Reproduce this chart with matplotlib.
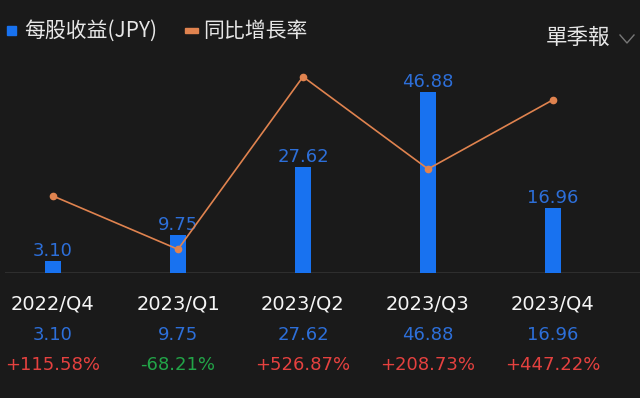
import matplotlib.pyplot as plt
from matplotlib.patches import Rectangle
from matplotlib.lines import Line2D
from matplotlib.transforms import blended_transform_factory

# data
quarters = ["2022/Q4", "2023/Q1", "2023/Q2", "2023/Q3", "2023/Q4"]
eps = [3.10, 9.75, 27.62, 46.88, 16.96]
yoy = [115.58, -68.21, 526.87, 208.73, 447.22]

bg = "#1a1a1a"
blue = "#1872f0"
blue_txt = "#2d6fd9"
orange = "#e0834f"
red = "#e5413f"
green = "#22a548"

W, H = 640, 398
fig = plt.figure(figsize=(6.4, 3.98), dpi=100)
fig.patch.set_facecolor(bg)

def fy(py):
    # pixel from top -> figure fraction
    return 1 - py / H

ax = fig.add_axes([5 / W, fy(273), 635 / W, 213 / H])
ax.set_facecolor(bg)
for s in ax.spines.values():
    s.set_visible(False)
ax.set_xticks([])
ax.set_yticks([])
x = list(range(len(quarters)))
ax.set_xlim(-0.384, 4.696)
ax.set_ylim(0, 55.27)
ax.axhline(0, color="#333333", lw=1.2)
ax.bar(x, eps, width=0.128, color=blue, zorder=2)
for xi, v in zip(x, eps):
    ax.annotate(f"{v:.2f}", (xi, v), xytext=(0, 3.6), textcoords="offset points",
                ha="center", va="baseline", fontsize=13, color=blue_txt,
                family="DejaVu Sans")

ax2 = ax.twinx()
for s in ax2.spines.values():
    s.set_visible(False)
ax2.set_yticks([])
ax2.set_ylim(-149.9, 584.5)
ax2.plot(x, yoy, color=orange, lw=1.2, marker="o", markersize=4.5, zorder=3)

# rows under the chart
tr = blended_transform_factory(ax.transData, fig.transFigure)
for xi, q, v, p in zip(x, quarters, eps, yoy):
    ax.text(xi, fy(309), q, transform=tr, ha="center", va="baseline",
            fontsize=14, color="#f5f5f5", family="DejaVu Sans")
    ax.text(xi, fy(340), f"{v:.2f}", transform=tr, ha="center", va="baseline",
            fontsize=13, color=blue_txt, family="DejaVu Sans")
    ax.text(xi, fy(370), f"{p:+.2f}%", transform=tr, ha="center", va="baseline",
            fontsize=13, color=red if p >= 0 else green, family="DejaVu Sans")

# legend
cjk = ["Noto Sans CJK TC", "DejaVu Sans"]
fig.add_artist(Rectangle((7 / W, fy(35)), 9 / W, 9 / H, transform=fig.transFigure,
                         color=blue))
fig.text(24 / W, fy(31), "每股收益(JPY)", ha="left", va="center", fontsize=15,
         color="#e6e6e6", family=cjk)
fig.add_artist(Rectangle((185 / W, fy(33)), 13 / W, 5 / H, transform=fig.transFigure,
                         color=orange))
fig.text(203 / W, fy(31), "同比增長率", ha="left", va="center", fontsize=15,
         color="#e6e6e6", family=cjk)
fig.text(546 / W, fy(38), "單季報", ha="left", va="center", fontsize=15.5,
         color="#e6e6e6", family=cjk)
fig.add_artist(Line2D([620 / W, 627 / W, 634 / W], [fy(35), fy(43), fy(35)],
                      transform=fig.transFigure, color="#777777", lw=1.0))

fig.savefig("out.png", dpi=100, facecolor=bg)
